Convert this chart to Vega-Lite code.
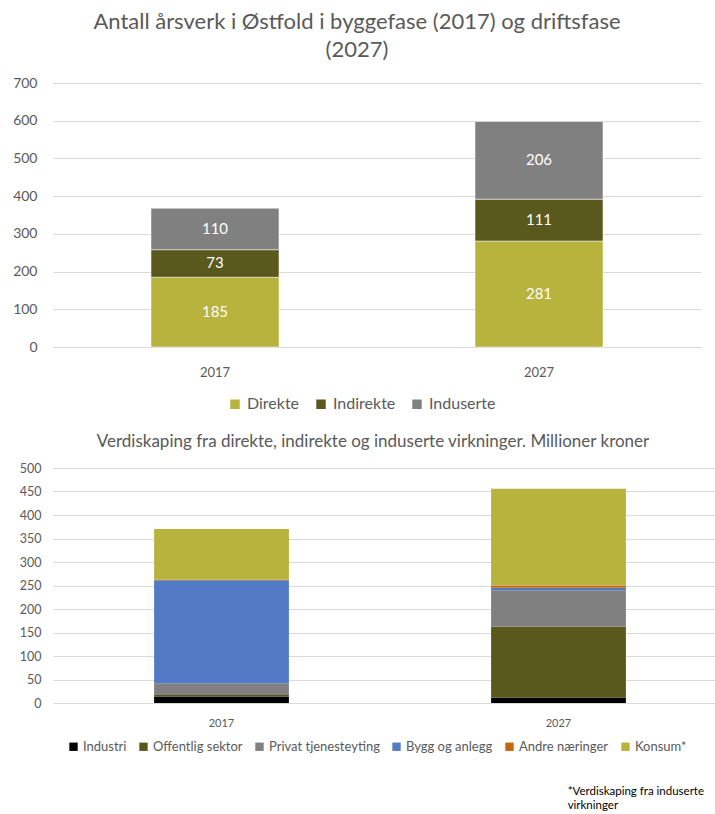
{
  "$schema": "https://vega.github.io/schema/vega-lite/v6.json",
  "background": "white",
  "padding": {"left": 12, "top": 11, "right": 0, "bottom": 0},
  "config": {
    "view": {"stroke": null},
    "font": "Lato",
    "axis": {"labelFont": "Lato", "labelColor": "#595959", "domain": false, "ticks": false, "gridColor": "#d9d9d9", "title": null},
    "legend": {"labelFont": "Lato", "labelColor": "#595959"}
  },
  "title": {
    "text": ["*Verdiskaping fra induserte", "virkninger"],
    "orient": "bottom",
    "anchor": "start",
    "align": "left",
    "dx": 555,
    "offset": 32,
    "fontSize": 11.5,
    "fontWeight": "normal",
    "color": "#000000",
    "lineHeight": 14
  },
  "spacing": 20,
  "resolve": {
    "scale": {"color": "independent", "x": "independent", "y": "independent"},
    "legend": {"color": "independent"}
  },
  "vconcat": [
    {
      "width": 648,
      "height": 264,
      "title": {
        "text": ["Antall årsverk i Østfold i byggefase (2017) og driftsfase", "(2027)"],
        "fontSize": 22,
        "fontWeight": "normal",
        "color": "#595959",
        "lineHeight": 28,
        "offset": 14,
        "dx": -20
      },
      "data": {
        "values": [
          {"aar": "2017", "type": "Direkte", "verdi": 185},
          {"aar": "2017", "type": "Indirekte", "verdi": 73},
          {"aar": "2017", "type": "Induserte", "verdi": 110},
          {"aar": "2027", "type": "Direkte", "verdi": 281},
          {"aar": "2027", "type": "Indirekte", "verdi": 111},
          {"aar": "2027", "type": "Induserte", "verdi": 206}
        ]
      },
      "transform": [
        {"window": [{"op": "row_number", "as": "rad"}], "groupby": ["aar"]}
      ],
      "layer": [
        {
          "mark": {"type": "bar", "stroke": "white", "strokeWidth": 0.5},
          "encoding": {
            "x": {
              "field": "aar", "type": "nominal",
              "scale": {"paddingInner": 0.605, "paddingOuter": 0.3025},
              "axis": {"labelAngle": 0, "labelPadding": 19, "labelFontSize": 13}
            },
            "y": {
              "field": "verdi", "type": "quantitative", "stack": "zero",
              "scale": {"domain": [0, 700]},
              "axis": {"values": [0, 100, 200, 300, 400, 500, 600, 700], "labelPadding": 16, "labelFontSize": 14}
            },
            "order": {"field": "rad", "type": "quantitative", "sort": "ascending"},
            "color": {
              "field": "type", "type": "nominal",
              "scale": {"domain": ["Direkte", "Indirekte", "Induserte"], "range": ["#b7b33c", "#5a591d", "#808080"]},
              "legend": {
                "title": null, "orient": "none", "legendX": 174, "legendY": 313,
                "direction": "horizontal", "symbolType": "square", "symbolSize": 120,
                "labelFontSize": 16, "columnPadding": 12, "labelOffset": 4
              }
            }
          }
        },
        {
          "transform": [
            {"stack": "verdi", "groupby": ["aar"], "sort": [{"field": "rad", "order": "ascending"}], "as": ["v0", "v1"]},
            {"fold": ["v0", "v1"], "as": ["kant", "pos"]},
            {"aggregate": [{"op": "mean", "field": "pos", "as": "midt"}], "groupby": ["aar", "type", "verdi"]}
          ],
          "mark": {"type": "text", "color": "white", "fontSize": 15},
          "encoding": {
            "x": {"field": "aar", "type": "nominal"},
            "y": {
              "field": "midt", "type": "quantitative",
              "axis": {"values": [0, 100, 200, 300, 400, 500, 600, 700], "labelPadding": 16, "labelFontSize": 14}
            },
            "text": {"field": "verdi", "type": "quantitative"}
          }
        }
      ]
    },
    {
      "width": 674,
      "height": 235,
      "title": {
        "text": "Verdiskaping fra direkte, indirekte og induserte virkninger. Millioner kroner",
        "fontSize": 17,
        "fontWeight": "normal",
        "color": "#595959",
        "offset": 11,
        "dx": -17
      },
      "data": {
        "values": [
          {"aar": "2017", "naering": "Industri", "mill": 14},
          {"aar": "2017", "naering": "Offentlig sektor", "mill": 3},
          {"aar": "2017", "naering": "Privat tjenesteyting", "mill": 25},
          {"aar": "2017", "naering": "Bygg og anlegg", "mill": 219},
          {"aar": "2017", "naering": "Andre næringer", "mill": 1},
          {"aar": "2017", "naering": "Konsum*", "mill": 108},
          {"aar": "2027", "naering": "Industri", "mill": 11},
          {"aar": "2027", "naering": "Offentlig sektor", "mill": 151},
          {"aar": "2027", "naering": "Privat tjenesteyting", "mill": 78},
          {"aar": "2027", "naering": "Bygg og anlegg", "mill": 5},
          {"aar": "2027", "naering": "Andre næringer", "mill": 5},
          {"aar": "2027", "naering": "Konsum*", "mill": 206}
        ]
      },
      "transform": [
        {"window": [{"op": "row_number", "as": "rad"}], "groupby": ["aar"]}
      ],
      "mark": {"type": "bar"},
      "encoding": {
        "x": {
          "field": "aar", "type": "nominal",
          "scale": {"paddingInner": 0.6, "paddingOuter": 0.3},
          "axis": {"labelAngle": 0, "labelPadding": 14, "labelFontSize": 11}
        },
        "y": {
          "field": "mill", "type": "quantitative", "stack": "zero",
          "scale": {"domain": [0, 500]},
          "axis": {"values": [0, 50, 100, 150, 200, 250, 300, 350, 400, 450, 500], "labelPadding": 12, "labelFontSize": 12.5}
        },
        "order": {"field": "rad", "type": "quantitative", "sort": "ascending"},
        "color": {
          "field": "naering", "type": "nominal",
          "scale": {
            "domain": ["Industri", "Offentlig sektor", "Privat tjenesteyting", "Bygg og anlegg", "Andre næringer", "Konsum*"],
            "range": ["#000000", "#5a591d", "#808080", "#537ac5", "#c8650d", "#b7b33c"]
          },
          "legend": {
            "title": null, "orient": "none", "legendX": 14, "legendY": 272,
            "direction": "horizontal", "symbolType": "square", "symbolSize": 70,
            "labelFontSize": 13, "columnPadding": 10, "labelOffset": 3
          }
        }
      }
    }
  ]
}
